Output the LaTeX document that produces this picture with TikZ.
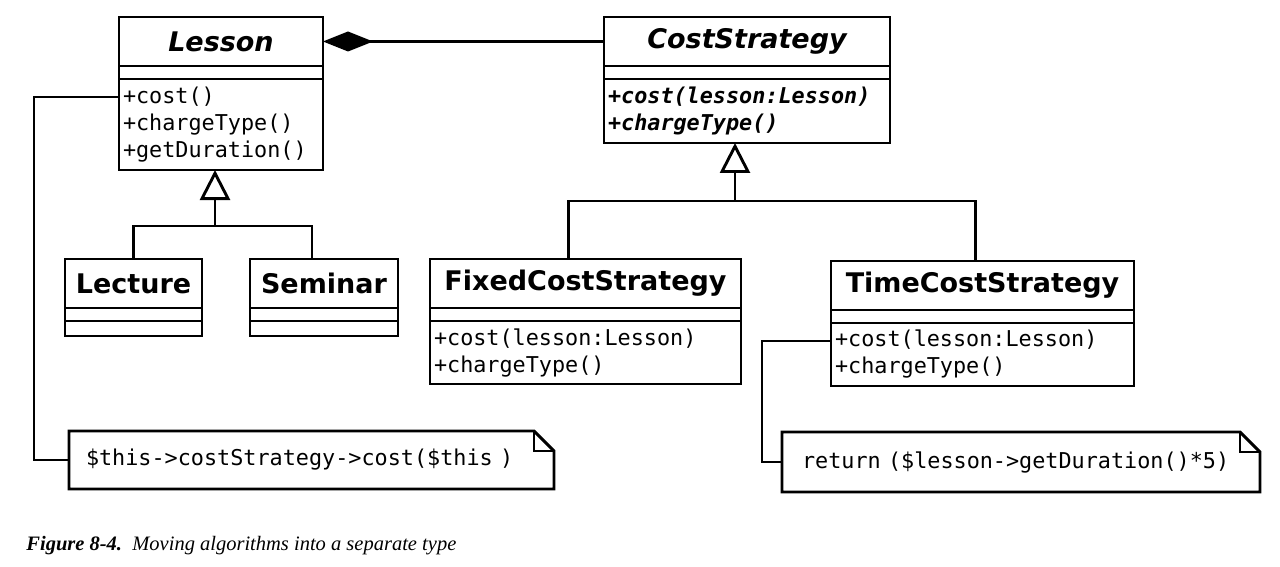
\documentclass[tikz,border=0pt]{standalone}
\usepackage{fontspec}
\setmainfont{Liberation Serif}
\newfontfamily\umlsans{DejaVu Sans}
\newfontfamily\umlmono{DejaVu Sans Mono}
\usetikzlibrary{positioning,arrows.meta}

\begin{document}
\begin{tikzpicture}[x=1pt,y=-1pt,line width=2.9pt,
  classname/.style={draw,outer sep=0pt,inner sep=0pt,minimum height=49pt,font=\umlsans\bfseries\fontsize{27}{32}\selectfont},
  abstractname/.style={classname,font=\umlsans\bfseries\itshape\fontsize{27}{32}\selectfont},
  classattr/.style={draw,outer sep=0pt,inner sep=0pt,minimum height=13pt},
  classops/.style={draw,outer sep=0pt,inner xsep=4pt,inner ysep=0pt,align=left,font=\umlmono\fontsize{21.8}{27}\selectfont},
  notebox/.style={outer sep=0pt,inner ysep=0pt,align=left,font=\umlmono\fontsize{21.8}{27}\selectfont},
  inherit/.style={-{Triangle[open,length=30pt,width=30pt]}},
  compose/.style={-{Diamond[length=50pt,width=20pt]}}]
\useasboundingbox (0,0) rectangle (1280,567);

% classes
\node[abstractname,minimum width=204pt] (lesson) at (221,41.5) {Lesson};
\node[classattr,minimum width=204pt,below=0pt of lesson] (lesson-attr) {};
\node[classops,text width=196pt,minimum height=91pt,below=0pt of lesson-attr] (lesson-ops) {+cost()\\+chargeType()\\+getDuration()};

\node[abstractname,minimum width=286pt] (cost) at (747,41.5) {CostStrategy};
\node[classattr,minimum width=286pt,below=0pt of cost] (cost-attr) {};
\node[classops,text width=278pt,minimum height=64pt,below=0pt of cost-attr,font=\umlmono\bfseries\itshape\fontsize{21.8}{27}\selectfont] (cost-ops) {+cost(lesson:Lesson)\\+chargeType()};

\node[classname,minimum width=137pt] (lecture) at (133.5,283.5) {Lecture};
\node[classattr,minimum width=137pt,below=0pt of lecture] (lecture-attr) {};
\node[classattr,minimum width=137pt,minimum height=15pt,below=0pt of lecture-attr] (lecture-ops) {};

\node[classname,minimum width=148pt] (seminar) at (324,283.5) {Seminar};
\node[classattr,minimum width=148pt,below=0pt of seminar] (seminar-attr) {};
\node[classattr,minimum width=148pt,minimum height=15pt,below=0pt of seminar-attr] (seminar-ops) {};

\node[classname,minimum width=311pt] (fixed) at (585.5,283.5) {FixedCostStrategy};
\node[classattr,minimum width=311pt,below=0pt of fixed] (fixed-attr) {};
\node[classops,text width=303pt,minimum height=63pt,below=0pt of fixed-attr] (fixed-ops) {+cost(lesson:Lesson)\\+chargeType()};

\node[classname,minimum width=303pt] (time) at (982.5,285.5) {TimeCostStrategy};
\node[classattr,minimum width=303pt,below=0pt of time] (time-attr) {};
\node[classops,text width=295pt,minimum height=63pt,below=0pt of time-attr] (time-ops) {+cost(lesson:Lesson)\\+chargeType()};

% notes
\node[notebox,inner xsep=17pt,text width=451pt,minimum height=58pt] (note1) at (311.5,460) {\$this->costStrategy->cost(\$this )};
\node[notebox,inner xsep=20pt,text width=438pt,minimum height=60pt] (note2) at (1021,462) {return (\$lesson->getDuration()*5)};
\foreach \n in {note1,note2} {
    \draw (\n.north west) -- ([xshift=-20pt]\n.north east) -- ([yshift=-20pt]\n.north east) |- (\n.south west) -- cycle;
    \draw ([xshift=-20pt]\n.north east) |- ([yshift=-20pt]\n.north east);
}

% relations
\draw[compose] (cost.west) -- (lesson.east);

\coordinate (lesson-join) at (215,226);
\draw[inherit] (lesson-join) -- (lesson-join |- lesson-ops.south);
\draw (lecture.north) |- (lesson-join) -| ([xshift=-12pt]seminar.north);

\coordinate (cost-join) at (735,201);
\draw[inherit] (cost-join) -- (cost-join |- cost-ops.south);
\draw ([xshift=-17pt]fixed.north) |- (cost-join) -| ([xshift=-7pt]time.north);

\draw ([yshift=-18pt]lesson-ops.north west) -- ++(-85,0) |- (note1.west);
\draw ([yshift=-18pt]time-ops.north west) -- ++(-69,0) |- (note2.west);

% caption
\node[anchor=base west,inner sep=0pt,font=\fontsize{20.5}{24}\selectfont] (caption) at (25,550) {\textbf{\textit{Figure 8-4.}}\hspace{0.5em}\textit{Moving algorithms into a separate type}};
\end{tikzpicture}
\end{document}
